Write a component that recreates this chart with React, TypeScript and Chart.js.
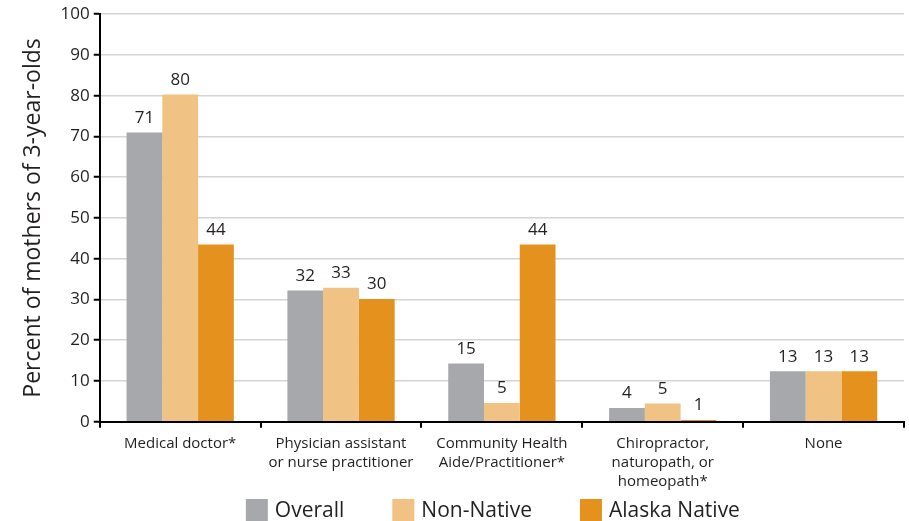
import React, { useEffect, useRef } from "react";
import { Chart, registerables } from "chart.js";

Chart.register(...registerables);

const categories: string[][] = [
  ["Medical doctor*"],
  ["Physician assistant", "or nurse practitioner"],
  ["Community Health", "Aide/Practitioner*"],
  ["Chiropractor,", "naturopath, or", "homeopath*"],
  ["None"],
];

const seriesNames = ["Overall", "Non-Native", "Alaska Native"];
const seriesColors = ["#a7a8ab", "#f0c283", "#e5911e"];

// bar heights
const overallValues = [71, 32.2, 14.3, 3.4, 12.4];
const nonNativeValues = [80.3, 32.9, 4.6, 4.5, 12.4];
const alaskaNativeValues = [43.5, 30.1, 43.5, 0.4, 12.4];

// printed value labels
const overallLabels = ["71", "32", "15", "4", "13"];
const nonNativeLabels = ["80", "33", "5", "5", "13"];
const alaskaNativeLabels = ["44", "30", "44", "1", "13"];

const yTicks = [0, 10, 20, 30, 40, 50, 60, 70, 80, 90, 100];

const FONT = "'Open Sans', 'Noto Sans', sans-serif";

export default function App() {
  const ref = useRef<HTMLCanvasElement | null>(null);

  useEffect(() => {
    document.body.style.margin = "0";
    const canvas = ref.current;
    if (!canvas) return;
    const allLabels = [overallLabels, nonNativeLabels, alaskaNativeLabels];

    const valueLabelPlugin = {
      id: "valueLabels",
      afterDatasetsDraw(chart: any) {
        const ctx = chart.ctx;
        ctx.save();
        ctx.font = `17px ${FONT}`;
        ctx.fillStyle = "#231f20";
        ctx.textAlign = "center";
        ctx.textBaseline = "bottom";
        chart.data.datasets.forEach((_ds: any, di: number) => {
          const meta = chart.getDatasetMeta(di);
          meta.data.forEach((el: any, i: number) => {
            ctx.fillText(allLabels[di][i], el.x, el.y - 6);
          });
        });
        ctx.restore();
      },
    };

    const legendPlugin = {
      id: "customLegend",
      afterDraw(chart: any) {
        const ctx = chart.ctx;
        ctx.save();
        ctx.font = `21px ${FONT}`;
        ctx.textBaseline = "middle";
        ctx.textAlign = "left";
        const box = 22;
        const gapText = 7;
        const gapItem = 48;
        const widths = seriesNames.map((n) => box + gapText + ctx.measureText(n).width);
        const total = widths.reduce((a, b) => a + b, 0) + gapItem * (seriesNames.length - 1);
        const ca = chart.chartArea;
        const cx = (ca.left + ca.right) / 2 - 9;
        let x = cx - total / 2;
        const cy = chart.height - 11;
        seriesNames.forEach((n, i) => {
          ctx.fillStyle = seriesColors[i];
          ctx.fillRect(x, cy - box / 2, box, box);
          ctx.fillStyle = "#231f20";
          ctx.fillText(n, x + box + gapText, cy + 1);
          x += widths[i] + gapItem;
        });
        ctx.restore();
      },
    };

    const chart = new Chart(canvas, {
      type: "bar",
      data: {
        labels: categories,
        datasets: [
          { label: seriesNames[0], data: overallValues, backgroundColor: seriesColors[0] },
          { label: seriesNames[1], data: nonNativeValues, backgroundColor: seriesColors[1] },
          { label: seriesNames[2], data: alaskaNativeValues, backgroundColor: seriesColors[2] },
        ],
      },
      options: {
        animation: false,
        responsive: false,
        maintainAspectRatio: false,
        layout: { padding: { top: 9, right: 5, left: 20, bottom: 23 } },
        datasets: {
          bar: { categoryPercentage: 0.667, barPercentage: 1.0 },
        },
        plugins: {
          tooltip: { enabled: false },
          legend: { display: false },
        },
        scales: {
          x: {
            offset: true,
            grid: {
              offset: true,
              drawOnChartArea: false,
              drawTicks: true,
              tickLength: 6,
              color: "#000",
              lineWidth: 2,
            },
            border: { display: true, color: "#000", width: 2 },
            ticks: {
              color: "#231f20",
              font: { size: 15, family: FONT, lineHeight: 1.25 },
              padding: 7,
              maxRotation: 0,
              autoSkip: false,
            },
          },
          y: {
            min: 0,
            max: 100,
            afterBuildTicks: (axis: any) => {
              axis.ticks = yTicks.map((v) => ({ value: v }));
            },
            grid: {
              color: "#d4d4d4",
              lineWidth: 1.5,
              drawTicks: true,
              tickLength: 6,
              tickColor: "#000",
              tickWidth: 2,
            },
            border: { display: true, color: "#000", width: 2 },
            ticks: {
              color: "#231f20",
              font: { size: 17, family: FONT },
              padding: 4,
            },
            title: {
              display: true,
              text: "Percent of mothers of 3-year-olds",
              color: "#231f20",
              font: { size: 23, family: FONT },
              padding: { top: 0, bottom: 9 },
            },
          },
        },
      },
      plugins: [valueLabelPlugin, legendPlugin],
    });
    return () => chart.destroy();
  }, []);

  return (
    <div style={{ width: 909, height: 521 }}>
      <canvas ref={ref} width={909} height={521} style={{ display: "block" }} />
    </div>
  );
}
